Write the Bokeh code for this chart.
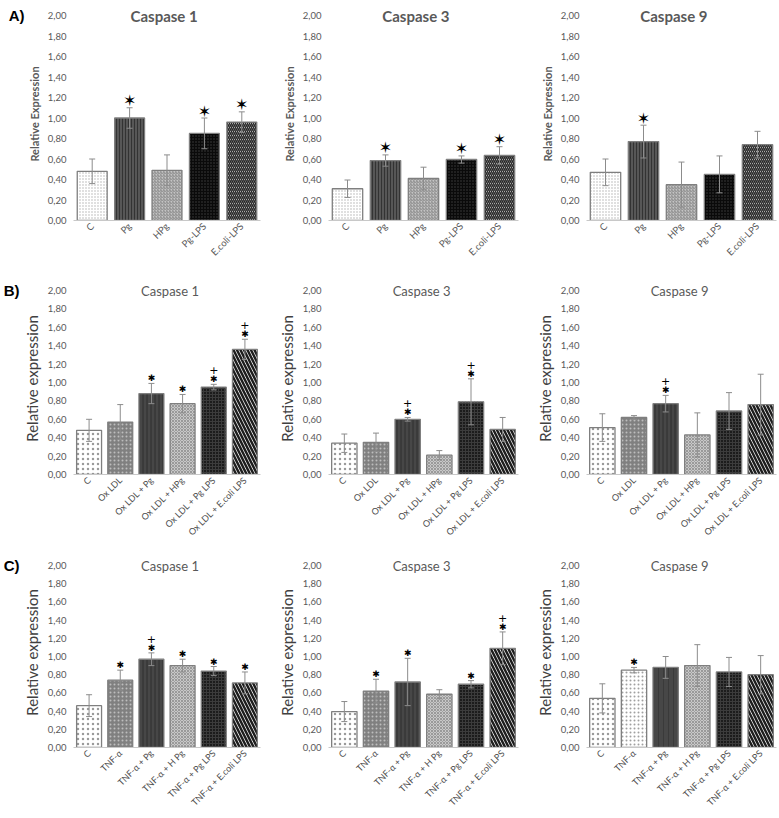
import math
from bokeh.plotting import figure
from bokeh.models import (ColumnDataSource, FactorRange, Range1d, FixedTicker, LinearAxis,
                          CustomJSTickFormatter, Whisker, TeeHead, LabelSet, Label)
from bokeh.layouts import gridplot
from bokeh.embed import file_html
from bokeh.resources import INLINE
from bokeh.core.properties import value

# ---------------- data ----------------
y_ticks = [0.0, 0.2, 0.4, 0.6, 0.8, 1.0, 1.2, 1.4, 1.6, 1.8, 2.0]

cats_A = ["C", "Pg", "HPg", "Pg-LPS", "E.coli-LPS"]
a1_mean = [0.48, 1.00, 0.49, 0.85, 0.96]
a1_err = [0.12, 0.10, 0.15, 0.15, 0.10]
a1_star = [0, 1, 0, 1, 1]
a3_mean = [0.31, 0.585, 0.41, 0.595, 0.635]
a3_err = [0.085, 0.055, 0.11, 0.035, 0.085]
a3_star = [0, 1, 0, 1, 1]
a9_mean = [0.47, 0.77, 0.35, 0.45, 0.74]
a9_err = [0.13, 0.16, 0.22, 0.18, 0.13]
a9_star = [0, 1, 0, 0, 0]

cats_B = ["C", "Ox LDL", "Ox LDL + Pg", "Ox LDL + HPg", "Ox LDL + Pg LPS", "Ox LDL + E.coli LPS"]
b1_mean = [0.48, 0.57, 0.88, 0.77, 0.95, 1.36]
b1_err = [0.12, 0.19, 0.11, 0.10, 0.03, 0.11]
b1_star = [0, 0, 1, 1, 1, 1]
b1_dag = [0, 0, 0, 0, 1, 1]
b3_mean = [0.34, 0.35, 0.60, 0.21, 0.79, 0.49]
b3_err = [0.10, 0.10, 0.02, 0.05, 0.25, 0.13]
b3_star = [0, 0, 1, 0, 1, 0]
b3_dag = [0, 0, 1, 0, 1, 0]
b9_mean = [0.51, 0.62, 0.77, 0.43, 0.69, 0.76]
b9_err = [0.15, 0.02, 0.09, 0.24, 0.20, 0.33]
b9_star = [0, 0, 1, 0, 0, 0]
b9_dag = [0, 0, 1, 0, 0, 0]

cats_C = ["C", "TNF-α", "TNF-α + Pg", "TNF-α + H Pg", "TNF-α + Pg LPS", "TNF-α + E.coli LPS"]
c1_mean = [0.46, 0.74, 0.97, 0.90, 0.84, 0.71]
c1_err = [0.12, 0.11, 0.07, 0.07, 0.05, 0.12]
c1_star = [0, 1, 1, 1, 1, 1]
c1_dag = [0, 0, 1, 0, 0, 0]
c3_mean = [0.395, 0.62, 0.72, 0.585, 0.695, 1.09]
c3_err = [0.11, 0.13, 0.26, 0.05, 0.04, 0.18]
c3_star = [0, 1, 1, 0, 1, 1]
c3_dag = [0, 0, 0, 0, 0, 1]
c9_mean = [0.54, 0.85, 0.88, 0.90, 0.83, 0.80]
c9_err = [0.16, 0.03, 0.12, 0.23, 0.16, 0.21]
c9_star = [0, 1, 0, 0, 0, 0]
c9_dag = [0, 0, 0, 0, 0, 0]

# ---------------- styles ----------------
STY = {
    "ctrlA": ("#ffffff", ".", "#b0b0b0", 3, 0.8),
    "pgA":   ("#575757", "|", "#333333", 3, 1.0),
    "hpgA":  ("#c4c4c4", "/", "#8a8a8a", 3, 1.0),
    "lpsA":  ("#202020", "+", "#0a0a0a", 3, 1.0),
    "ecoA":  ("#ffffff", "\\", "#262626", 4, 1.6),
    "ctrlB": ("#ffffff", ".", "#9a9a9a", 5, 0.6),
    "oxB":   ("#808080", ".", "#bdbdbd", 4, 0.8),
    "pgB":   ("#474747", "|", "#2e2e2e", 4, 1.0),
    "hpgB":  ("#c8c8c8", "x", "#9a9a9a", 3, 1.0),
    "lpsB":  ("#1c1c1c", "+", "#3c3c3c", 3, 1.0),
    "ecoB":  ("#ffffff", "\\", "#1e1e1e", 7, 2.5),
    "tnfW":  ("#ffffff", ".", "#a0a0a0", 4, 0.8),
    "pgS":   ("#474747", "|", "#3a3a3a", 5, 1.0),
}
ROW_STYLES_A = ["ctrlA", "pgA", "hpgA", "lpsA", "ecoA"]
ROW_STYLES_B = ["ctrlB", "oxB", "pgB", "hpgB", "lpsB", "ecoB"]
ROW_STYLES_C9 = ["ctrlB", "tnfW", "pgS", "hpgB", "lpsB", "ecoB"]

PAD = 8  # px of frame above the 2,00 level, room for the panel title
ROWCFG = {
    "A": dict(top=15, span=205, bottom=46, title_size="15px", title_style="bold",
              title_x=0.46, xcolor="#595959",
              ylab="Relative Expression", ylab_size="11px", ylab_style="bold",
              xlab_size="9.5px", star="✶", star_size="16px", star_off=7),
    "B": dict(top=24, span=184, bottom=72, title_size="13px", title_style="normal",
              title_x=0.49, xcolor="#4d4d4d",
              ylab="Relative expression", ylab_size="15px", ylab_style="normal",
              xlab_size="9px", star="✱", star_size="9px", star_off=5),
    "C": dict(top=19, span=182, bottom=70, title_size="13px", title_style="normal",
              title_x=0.49, xcolor="#4d4d4d",
              ylab="Relative expression", ylab_size="15px", ylab_style="normal",
              xlab_size="9px", star="✱", star_size="9px", star_off=5),
}

COLS = [dict(w=262, bl=63), dict(w=258, bl=66), dict(w=258, bl=66)]
BR = 2
FONT = "Lato"
GRAY = "#595959"


def panel(row, col, cats, mean, err, star, dag, styles, title, letter=None):
    cfg = ROWCFG[row]
    cc = COLS[col]
    fw = cc["w"] - cc["bl"] - BR
    fh = cfg["span"] + PAD
    y_end = 2.0 * fh / cfg["span"]
    p = figure(x_range=FactorRange(*cats), y_range=Range1d(0, y_end),
               width=cc["w"], height=cfg["top"] + cfg["span"] + cfg["bottom"],
               min_border_left=cc["bl"], min_border_right=BR,
               min_border_top=cfg["top"] - PAD, min_border_bottom=cfg["bottom"],
               output_backend="svg", toolbar_location=None, title=None)
    sty = [STY[s] for s in styles]
    src = ColumnDataSource(dict(
        cat=cats, mean=mean,
        upper=[m + e for m, e in zip(mean, err)],
        lower=[m - e for m, e in zip(mean, err)],
        fill=[s[0] for s in sty], hatch=[s[1] for s in sty],
        hcolor=[s[2] for s in sty], hscale=[s[3] for s in sty],
        hweight=[s[4] for s in sty],
        star=[cfg["star"] if s else "" for s in star],
        dag=["+" if d else "" for d in dag],
    ))
    p.vbar(x="cat", top="mean", width=0.8, source=src, fill_color="fill",
           line_color="#7f7f7f", line_width=1.3, hatch_pattern="hatch",
           hatch_color="hcolor", hatch_scale="hscale", hatch_weight="hweight")
    w = Whisker(base="cat", upper="upper", lower="lower", source=src,
                line_color="#8c8c8c", line_width=1, level="overlay")
    w.upper_head = TeeHead(size=6, line_color="#8c8c8c", line_width=1)
    w.lower_head = TeeHead(size=6, line_color="#8c8c8c", line_width=1)
    p.add_layout(w)
    p.add_layout(LabelSet(x="cat", y="upper", text="star", source=src,
                          y_offset=cfg["star_off"], text_align="center",
                          text_baseline="middle", text_font=value("DejaVu Sans"),
                          text_font_size=value(cfg["star_size"]), text_color="black",
                          level="overlay"))
    p.add_layout(LabelSet(x="cat", y="upper", text="dag", source=src,
                          y_offset=cfg["star_off"] + 9, text_align="center",
                          text_baseline="middle", text_font=value("DejaVu Sans"),
                          text_font_size=value("11px"), text_color="black",
                          level="overlay"))
    p.add_layout(Label(x=cfg["title_x"] * fw, x_units="screen", y=2.0, text=title,
                       text_align="center", text_baseline="middle",
                       text_font=FONT, text_font_size=cfg["title_size"],
                       text_font_style=cfg["title_style"], text_color=GRAY))
    # axes
    p.xgrid.visible = False
    p.ygrid.visible = False
    p.outline_line_color = None
    for ax in (p.xaxis[0], p.yaxis[0]):
        ax.major_tick_out = 0
        ax.major_tick_in = 0
        ax.minor_tick_out = 0
        ax.minor_tick_in = 0
        ax.major_tick_line_color = None
        ax.minor_tick_line_color = None
    p.yaxis.ticker = FixedTicker(ticks=y_ticks)
    p.yaxis.formatter = CustomJSTickFormatter(code="return tick.toFixed(2).replace('.', ',');")
    p.yaxis.axis_line_color = None
    p.yaxis.major_label_text_font = FONT
    p.yaxis.major_label_text_font_size = "9.5px"
    p.yaxis.major_label_text_color = GRAY
    p.yaxis.major_label_standoff = 7
    p.yaxis.axis_label = cfg["ylab"]
    p.yaxis.axis_label_text_font = FONT
    p.yaxis.axis_label_text_font_size = cfg["ylab_size"]
    p.yaxis.axis_label_text_font_style = cfg["ylab_style"]
    p.yaxis.axis_label_text_color = "#404040" if row != "A" else GRAY
    p.yaxis.axis_label_standoff = 4
    p.xaxis.axis_line_color = "#c8c8c8"
    p.xaxis.major_label_orientation = math.pi / 4
    p.xaxis.major_label_text_font = FONT
    p.xaxis.major_label_text_font_size = cfg["xlab_size"]
    p.xaxis.major_label_text_color = cfg["xcolor"]
    p.xaxis.major_label_standoff = 4
    if letter:
        lab = LinearAxis(ticker=FixedTicker(ticks=[2.0]),
                         formatter=CustomJSTickFormatter(code="return '%s';" % letter),
                         axis_line_color=None, major_tick_line_color=None,
                         minor_tick_line_color=None, major_tick_out=0, major_tick_in=0,
                         minor_tick_out=0, minor_tick_in=0, major_label_standoff=0,
                         major_label_text_font="Liberation Sans",
                         major_label_text_font_size="15px",
                         major_label_text_font_style="bold",
                         major_label_text_color="black")
        p.add_layout(lab, "left")
    return p


a1 = panel("A", 0, cats_A, a1_mean, a1_err, a1_star, [0] * 5, ROW_STYLES_A, "Caspase 1", "A)")
a3 = panel("A", 1, cats_A, a3_mean, a3_err, a3_star, [0] * 5, ROW_STYLES_A, "Caspase 3")
a9 = panel("A", 2, cats_A, a9_mean, a9_err, a9_star, [0] * 5, ROW_STYLES_A, "Caspase 9")
b1 = panel("B", 0, cats_B, b1_mean, b1_err, b1_star, b1_dag, ROW_STYLES_B, "Caspase 1", "B)")
b3 = panel("B", 1, cats_B, b3_mean, b3_err, b3_star, b3_dag, ROW_STYLES_B, "Caspase 3")
b9 = panel("B", 2, cats_B, b9_mean, b9_err, b9_star, b9_dag, ROW_STYLES_B, "Caspase 9")
c1 = panel("C", 0, cats_C, c1_mean, c1_err, c1_star, c1_dag, ROW_STYLES_B, "Caspase 1", "C)")
c3 = panel("C", 1, cats_C, c3_mean, c3_err, c3_star, c3_dag, ROW_STYLES_B, "Caspase 3")
c9 = panel("C", 2, cats_C, c9_mean, c9_err, c9_star, c9_dag, ROW_STYLES_C9, "Caspase 9")

grid = gridplot([[a1, a3, a9], [b1, b3, b9], [c1, c3, c9]], toolbar_location=None)

open("out.html", "w").write(file_html(grid, INLINE))
